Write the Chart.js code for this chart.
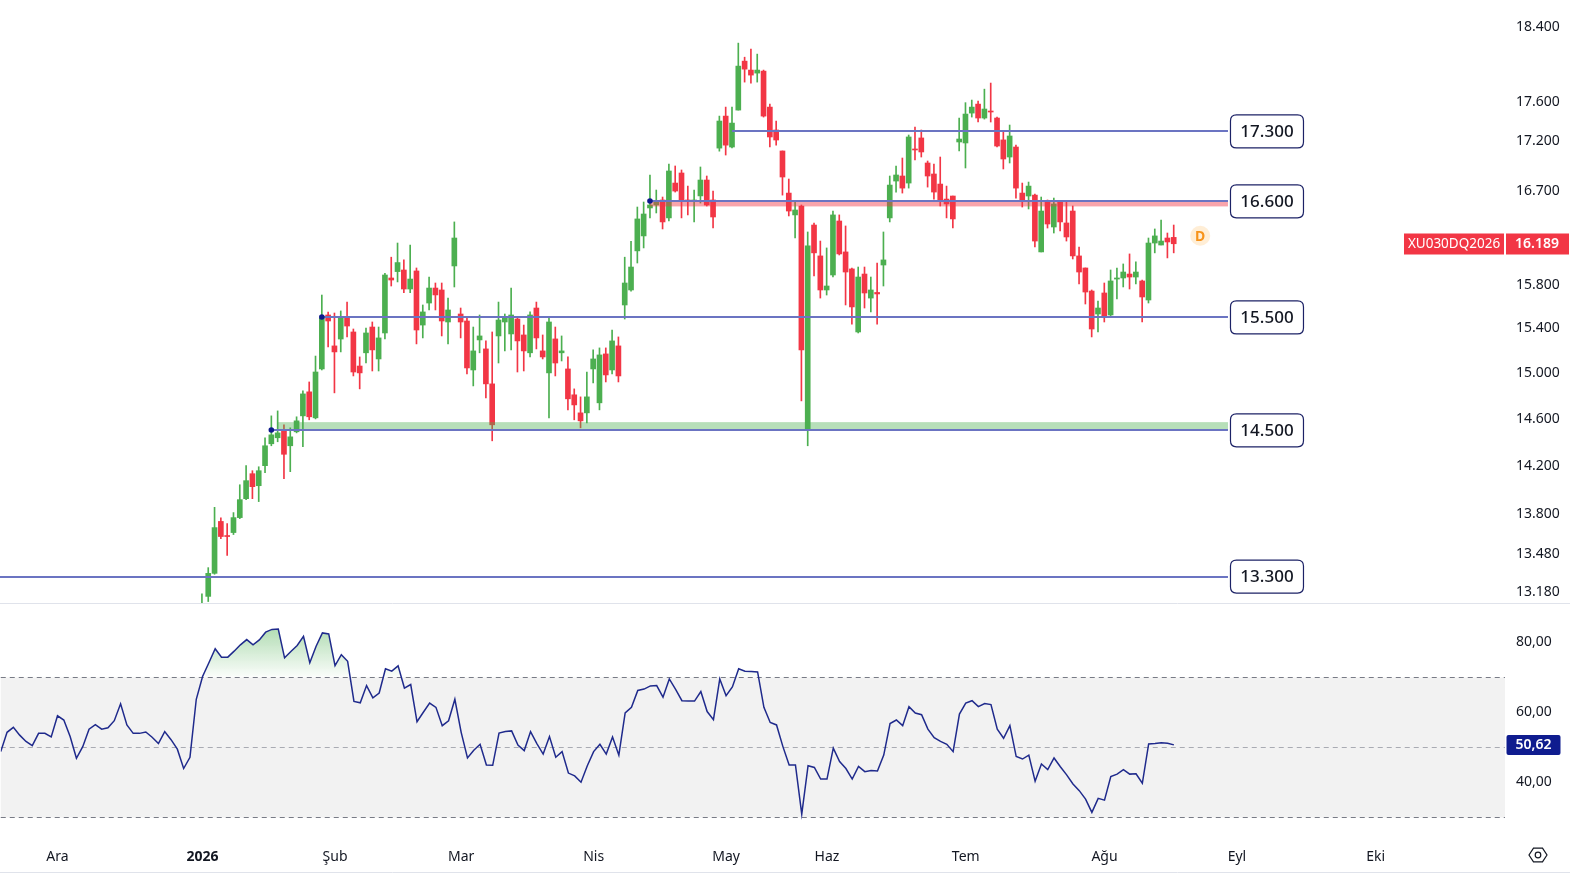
<!DOCTYPE html>
<html lang="tr">
<head>
<meta charset="utf-8">
<title>XU030DQ2026</title>
<script src="https://cdn.jsdelivr.net/npm/chart.js@4.4.1/dist/chart.umd.min.js"></script>
<style>
  html, body { margin: 0; padding: 0; background: #fff; overflow: hidden; }
  #wrap { position: relative; width: 1570px; height: 875px; }
  canvas { position: absolute; left: 0; }
  #price { top: 0; }
  #rsi { top: 604px; }
</style>
</head>
<body>
<div id="wrap">
  <canvas id="price" width="1570" height="604"></canvas>
  <canvas id="rsi" width="1570" height="271"></canvas>
</div>
<script>
const FONT = "'Noto Sans', 'DejaVu Sans', sans-serif";
const UP = "#4caf50";
const DOWN = "#f23645";
const TEXT = "#131722";

// daily candles, bar 0 = 2 Jan 2026 (trading-day index)
const opens = [
  12990,13145,13325,13740,13626,13650,13771,13926,14133,14033,
  14200,14385,14436,14496,14368,14487,14624,14833,14607,15035,
  15522,15241,15303,15504,15367,15061,15179,15412,15124,15358,
  15865,15925,15940,15762,15931,15430,15632,15771,15753,15458,
  15978,15531,15467,15026,15295,15214,14903,15331,15458,15349,
  15485,15340,15179,15586,15196,15000,15304,15179,15035,14807,
  14650,14650,15035,14737,15169,15026,15241,15614,15753,16121,
  16264,16535,16564,16613,16438,16780,16880,16613,16603,16653,
  16810,16613,17130,17457,17141,17519,18033,17938,17906,17927,
  17550,17314,17101,16681,16467,16554,14496,16369,16073,15753,
  15893,16408,16111,15950,15367,15902,15678,15730,15987,16438,
  16800,16850,16780,17121,17233,16980,16870,16770,16622,16652,
  17192,17182,17488,17581,17437,17509,17437,17213,17040,17141,
  16681,16652,16661,16111,16593,16350,16593,16389,16505,16073,
  15959,15743,15531,15725,15522,15855,15865,15902,15874,15837,
  15660,16196,16177,16244,16250
];
const highs = [
  13165,13370,13855,13770,13723,13812,14041,14200,14158,14191,
  14436,14624,14667,14547,14521,14616,14841,14920,15150,15706,
  15549,15540,15559,15641,15394,15142,15403,15458,15412,15909,
  16061,16196,16035,16177,15959,15614,15874,15818,15818,15678,
  16399,15586,15494,15412,15522,15286,15367,15641,15531,15771,
  15494,15430,15550,15641,15340,15494,15412,15331,15142,14859,
  14789,15008,15205,15223,15223,15385,15322,16061,16211,16544,
  16593,16860,16711,16642,16970,16950,16910,16750,16711,16940,
  16850,16701,17457,17550,17550,18226,18075,18162,18108,17938,
  17581,17406,17101,16820,16603,16564,16302,16389,16215,16149,
  16505,16467,16360,15959,15968,15968,15874,16006,16302,16850,
  16950,17030,17263,17344,17314,17000,16970,17040,16750,16652,
  17436,17596,17623,17612,17737,17801,17447,17304,17365,17161,
  16780,16790,16671,16642,16613,16632,16603,16603,16554,16158,
  15959,15753,15651,15818,15940,15959,15997,16092,16016,15846,
  16244,16331,16418,16292,16369
];
const lows = [
  12950,13105,13318,13600,13466,13634,13763,13918,13926,13902,
  14141,14368,14402,14091,14150,14478,14360,14590,14598,15026,
  15232,14824,15187,15322,14973,14859,15088,15017,15017,15304,
  15790,15828,15728,15728,15259,15313,15568,15568,15331,15259,
  15781,15313,14990,14885,15179,14780,14410,15088,15196,15205,
  15008,15017,15142,15214,15124,14607,14973,15106,14676,14590,
  14521,14564,14911,14676,14920,14990,14920,15485,15743,16006,
  16149,16438,16486,16331,16408,16691,16438,16467,16399,16583,
  16554,16340,17099,17060,17131,17519,17811,17801,17811,17447,
  17141,17160,16661,16457,16244,14754,14368,15884,15678,15706,
  15874,16082,15614,15439,15358,15586,15550,15439,15790,16399,
  16691,16681,16730,17010,17040,16740,16622,16554,16438,16340,
  17101,16930,17447,17396,17426,17396,17141,16920,16980,16632,
  16544,16525,16158,16111,16340,16292,16311,16215,16044,15809,
  15623,15322,15367,15458,15513,15669,15781,15762,15809,15458,
  15632,16102,16177,16054,16102
];
const closes = [
  13090,13325,13690,13618,13618,13771,13918,14075,14025,14158,
  14368,14461,14478,14296,14444,14581,14815,14616,15008,15494,
  15467,15187,15504,15421,15008,15000,15358,15205,15313,15893,
  15846,16010,15762,15855,15385,15550,15771,15707,15467,15568,
  16244,15458,15044,15196,15331,14903,14547,15476,15504,15522,
  15286,15196,15522,15313,15142,15458,15088,15196,14772,14719,
  14581,14789,15124,15160,14982,15286,14973,15818,15968,16428,
  16476,16564,16593,16399,16900,16701,16603,16603,16613,16810,
  16564,16447,17406,17160,17385,17980,17948,17885,17938,17457,
  17243,17212,16840,16505,16515,15205,16168,16102,15753,15790,
  16467,16092,15921,15596,15874,15725,15753,15716,16035,16760,
  16860,16730,17243,17111,17091,16850,16691,16613,16574,16428,
  17222,17478,17550,17437,17530,17499,17151,17020,17253,16730,
  16603,16750,16215,16505,16379,16574,16399,16254,16073,15921,
  15734,15394,15586,15513,15837,15865,15921,15874,15921,15688,
  16196,16264,16215,16206,16189
];

// RSI(14), first value sits on bar -32
const rsiStart = -32;
const rsiValues = [
  48.7,54.2,55.6,53.4,51.6,50.4,53.9,53.9,52.9,58.9,
  57.7,53.0,46.8,50.1,55.1,56.4,55.1,55.5,57.5,62.3,
  56.3,53.9,53.9,54.3,52.8,51.0,54.4,52.1,49.4,43.9,
  47.1,63.6,
  70.1,74.0,78.0,75.6,75.6,77.3,79.1,80.6,79.1,80.5,
  82.7,83.5,83.6,75.4,77.2,78.9,81.5,74.0,78.7,82.5,
  82.2,73.2,76.3,74.4,63.0,62.6,67.5,64.0,65.4,72.3,
  71.6,73.1,66.8,67.8,57.2,59.9,62.5,61.3,56.1,57.5,
  63.6,54.2,46.9,49.1,50.8,44.9,44.8,54.0,54.4,54.6,
  50.6,49.0,54.4,51.0,48.0,53.0,47.1,48.7,42.6,41.8,
  40.0,44.7,48.7,50.8,48.0,52.9,47.7,59.7,61.3,66.1,
  66.5,67.4,67.5,64.2,69.4,66.4,63.2,63.1,63.1,65.8,
  60.1,57.8,69.4,64.6,67.1,72.3,71.6,71.5,71.4,61.3,
  57.0,56.3,50.2,44.9,44.9,30.9,44.7,44.2,40.9,40.9,
  49.7,45.9,43.9,40.9,44.5,43.0,43.3,43.2,47.7,56.7,
  57.7,56.1,61.5,59.7,59.2,55.1,52.7,51.6,50.8,48.7,
  59.4,62.5,63.2,61.5,62.4,62.1,55.1,52.5,56.1,47.3,
  46.6,47.7,40.3,45.2,43.6,46.9,44.4,42.1,39.5,37.6,
  35.2,31.4,35.4,34.9,41.6,42.3,43.6,42.3,42.4,39.7,
  50.9,51.0,51.2,51.1,50.62
];

const priceTicks = [18400, 17600, 17200, 16700, 15800, 15400, 15000, 14600, 14200, 13800, 13480, 13180];
const rsiTicks = [40, 60, 80];
const monthLabels = ["Ara", "2026", "Şub", "Mar", "Nis", "May", "Haz", "Tem", "Ağu", "Eyl", "Eki"];
const monthBars = [-23, 0, 21, 41, 62, 83, 99, 121, 143, 164, 186];

// drawn horizontal levels
const levelValues = [17300, 16600, 15500, 14500, 13300];
const levelFrom = [84, 71, 19, 11, -32];
const levelDot = [false, true, true, true, false];
const levelTo = 162.6;
const zoneLow = [16550, 14500];
const zoneHigh = [16610, 14570];
const zoneFrom = [71, 12];
const zoneColors = ["rgba(242,54,69,0.45)", "rgba(76,175,80,0.4)"];

const symbol = "XU030DQ2026";
const lastPrice = closes[closes.length - 1];
const lastRsi = rsiValues[rsiValues.length - 1];
const dividendBar = 158.2;
const dividendPrice = 16266;

const X_MIN = -32;
const X_MAX = 206.5;

function fmtPrice(v) {
  const s = String(Math.round(v));
  return s.slice(0, -3) + "." + s.slice(-3);
}
function fmtRsi(v) {
  return v.toFixed(2).replace(".", ",");
}
function roundRect(ctx, x, y, w, h, r) {
  ctx.beginPath();
  ctx.moveTo(x + r, y);
  ctx.lineTo(x + w - r, y);
  ctx.quadraticCurveTo(x + w, y, x + w, y + r);
  ctx.lineTo(x + w, y + h - r);
  ctx.quadraticCurveTo(x + w, y + h, x + w - r, y + h);
  ctx.lineTo(x + r, y + h);
  ctx.quadraticCurveTo(x, y + h, x, y + h - r);
  ctx.lineTo(x, y + r);
  ctx.quadraticCurveTo(x, y, x + r, y);
  ctx.closePath();
}

const candleColors = closes.map((c, i) => (c >= opens[i] ? UP : DOWN));
const wickData = closes.map((c, i) => ({ x: i, y: [lows[i], highs[i]] }));
const bodyData = closes.map((c, i) => ({ x: i, y: [opens[i], c] }));
const rsiData = rsiValues.map((v, i) => ({ x: rsiStart + i, y: v }));

const priceOverlay = {
  id: "priceOverlay",
  afterDatasetsDraw(chart) {
    const { ctx, chartArea, scales: { x, y } } = chart;
    const xEnd = x.getPixelForValue(levelTo);
    ctx.save();
    zoneLow.forEach((lo, k) => {
      const top = y.getPixelForValue(zoneHigh[k]);
      const bot = y.getPixelForValue(lo);
      const x0 = x.getPixelForValue(zoneFrom[k]);
      ctx.fillStyle = zoneColors[k];
      ctx.fillRect(x0, top, xEnd - x0, bot - top);
    });
    ctx.strokeStyle = "#6b74c2";
    ctx.lineWidth = 2;
    levelValues.forEach((v, k) => {
      const py = Math.round(y.getPixelForValue(v));
      const x0 = Math.max(chartArea.left, x.getPixelForValue(levelFrom[k]));
      ctx.beginPath();
      ctx.moveTo(x0, py);
      ctx.lineTo(xEnd, py);
      ctx.stroke();
      if (levelDot[k]) {
        ctx.fillStyle = "#0d1a8c";
        ctx.beginPath();
        ctx.arc(x0, py, 2.8, 0, Math.PI * 2);
        ctx.fill();
      }
    });
    ctx.restore();
  },
  afterDraw(chart) {
    const { ctx, chartArea, scales: { x, y } } = chart;
    ctx.save();
    // level tags
    const bx = x.getPixelForValue(levelTo) + 2;
    levelValues.forEach((v) => {
      const py = y.getPixelForValue(v);
      roundRect(ctx, bx + 0.5, py - 16.5, 73, 33, 6);
      ctx.fillStyle = "#fff";
      ctx.fill();
      ctx.strokeStyle = "#1c2266";
      ctx.lineWidth = 1.2;
      ctx.stroke();
      ctx.fillStyle = TEXT;
      ctx.font = "500 17px " + FONT;
      ctx.textAlign = "center";
      ctx.textBaseline = "middle";
      ctx.fillText(fmtPrice(v), bx + 37, py + 1);
    });
    // dividend marker
    const dx = x.getPixelForValue(dividendBar);
    const dy = y.getPixelForValue(dividendPrice);
    ctx.fillStyle = "rgba(255,152,0,0.16)";
    ctx.beginPath();
    ctx.arc(dx, dy, 10, 0, Math.PI * 2);
    ctx.fill();
    ctx.fillStyle = "#f7931a";
    ctx.font = "bold 14px " + FONT;
    ctx.textAlign = "center";
    ctx.fillText("D", dx, dy + 1);
    // last price tag
    const ly = Math.round(y.getPixelForValue(lastPrice));
    ctx.fillStyle = DOWN;
    ctx.fillRect(chartArea.right - 101, ly - 10.5, 100, 21);
    ctx.fillRect(chartArea.right + 1, ly - 10.5, 63, 21);
    ctx.fillStyle = "#fff";
    ctx.font = "13.5px " + FONT;
    ctx.fillText(symbol, chartArea.right - 51, ly + 0.5);
    ctx.font = "600 14px " + FONT;
    ctx.fillText(fmtPrice(lastPrice), chartArea.right + 32, ly + 0.5);
    // pane separator
    ctx.strokeStyle = "#e0e3eb";
    ctx.lineWidth = 1;
    ctx.beginPath();
    ctx.moveTo(0, chart.height - 0.5);
    ctx.lineTo(chart.width, chart.height - 0.5);
    ctx.stroke();
    ctx.restore();
  }
};

const priceChart = new Chart(document.getElementById("price"), {
  type: "bar",
  data: {
    datasets: [
      { label: "wick", data: wickData, backgroundColor: candleColors, barThickness: 1, grouped: false, order: 2 },
      { label: "body", data: bodyData, backgroundColor: candleColors, barThickness: 5, minBarLength: 1, grouped: false, order: 1 }
    ]
  },
  options: {
    responsive: false,
    animation: false,
    layout: { padding: 0 },
    plugins: { legend: { display: false }, tooltip: { enabled: false } },
    scales: {
      x: { type: "linear", min: X_MIN, max: X_MAX, offset: false, display: false },
      y: {
        type: "logarithmic",
        position: "right",
        min: 13086,
        max: 18696,
        grid: { display: false, drawTicks: false },
        border: { display: false },
        afterBuildTicks: (s) => { s.ticks = priceTicks.map((v) => ({ value: v })); },
        afterFit: (s) => { s.width = 65; s.paddingTop = 0; s.paddingBottom = 0; },
        ticks: {
          autoSkip: false,
          padding: 11,
          color: TEXT,
          font: { family: FONT, size: 14 },
          callback: (v) => fmtPrice(v)
        }
      }
    }
  },
  plugins: [priceOverlay]
});

const rsiOverlay = {
  id: "rsiOverlay",
  beforeDatasetsDraw(chart) {
    const { ctx, chartArea, scales: { y } } = chart;
    const y70 = Math.round(y.getPixelForValue(70)) + 0.5;
    const y50 = Math.round(y.getPixelForValue(50)) + 0.5;
    const y30 = Math.round(y.getPixelForValue(30)) + 0.5;
    ctx.save();
    ctx.fillStyle = "#f2f2f2";
    ctx.fillRect(chartArea.left, y70, chartArea.right - chartArea.left, y30 - y70);
    ctx.lineWidth = 1;
    ctx.setLineDash([5, 4]);
    [[y70, "#787b86"], [y50, "#a9abb3"], [y30, "#787b86"]].forEach(([py, col]) => {
      ctx.strokeStyle = col;
      ctx.beginPath();
      ctx.moveTo(chartArea.left, py);
      ctx.lineTo(chartArea.right, py);
      ctx.stroke();
    });
    ctx.restore();
  },
  afterDraw(chart) {
    const { ctx, chartArea, scales: { y } } = chart;
    ctx.save();
    const ly = Math.round(y.getPixelForValue(lastRsi));
    ctx.fillStyle = "#0f1c8f";
    roundRect(ctx, chartArea.right + 1.5, ly - 10, 54, 20, 2);
    ctx.fill();
    ctx.fillStyle = "#fff";
    ctx.font = "600 14px " + FONT;
    ctx.textAlign = "center";
    ctx.textBaseline = "middle";
    ctx.fillText(fmtRsi(lastRsi), chartArea.right + 28.5, ly + 0.5);
    // settings icon
    const gx = 1538, gy = chart.height - 20;
    ctx.strokeStyle = TEXT;
    ctx.lineWidth = 1.2;
    ctx.beginPath();
    for (let k = 0; k < 6; k++) {
      const a = Math.PI / 3 * k;
      const px = gx + 9 * Math.cos(a), py = gy + 8 * Math.sin(a);
      if (k === 0) ctx.moveTo(px, py); else ctx.lineTo(px, py);
    }
    ctx.closePath();
    ctx.stroke();
    ctx.beginPath();
    ctx.arc(gx, gy, 2.8, 0, Math.PI * 2);
    ctx.stroke();
    // bottom border
    ctx.strokeStyle = "#e0e3eb";
    ctx.lineWidth = 1;
    ctx.beginPath();
    ctx.moveTo(0, chart.height - 2.5);
    ctx.lineTo(chart.width, chart.height - 2.5);
    ctx.stroke();
    ctx.restore();
  }
};

const rsiChart = new Chart(document.getElementById("rsi"), {
  type: "line",
  data: {
    datasets: [{
      label: "RSI",
      data: rsiData,
      borderColor: "#1f2a8c",
      borderWidth: 1.5,
      pointRadius: 0,
      tension: 0,
      fill: { target: { value: 70 }, above: "rgba(76,175,80,0.25)", below: "rgba(0,0,0,0)" }
    }]
  },
  options: {
    responsive: false,
    animation: false,
    layout: { padding: 0 },
    plugins: { legend: { display: false }, tooltip: { enabled: false } },
    scales: {
      x: {
        type: "linear",
        min: X_MIN,
        max: X_MAX,
        offset: false,
        grid: { display: false, drawTicks: false },
        border: { display: false },
        afterBuildTicks: (s) => { s.ticks = monthBars.map((v) => ({ value: v })); },
        afterFit: (s) => { s.height = 44; s.paddingLeft = 0; s.paddingRight = 0; },
        ticks: {
          autoSkip: false,
          maxRotation: 0,
          padding: 18,
          color: TEXT,
          font: (c) => ({ family: FONT, size: 14, weight: c.tick && c.tick.value === 0 ? "bold" : "normal" }),
          callback: (v, i) => monthLabels[i]
        }
      },
      y: {
        position: "right",
        min: 26.11,
        max: 90.51,
        grid: { display: false, drawTicks: false },
        border: { display: false },
        afterBuildTicks: (s) => { s.ticks = rsiTicks.map((v) => ({ value: v })); },
        afterFit: (s) => { s.width = 65; s.paddingTop = 0; s.paddingBottom = 0; },
        ticks: {
          autoSkip: false,
          padding: 11,
          color: TEXT,
          font: { family: FONT, size: 14 },
          callback: (v) => fmtRsi(v)
        }
      }
    }
  },
  plugins: [rsiOverlay]
});

// overbought fill fades toward the 70 line
const ry = rsiChart.scales.y;
const grad = rsiChart.ctx.createLinearGradient(0, ry.getPixelForValue(86), 0, ry.getPixelForValue(70));
grad.addColorStop(0, "rgba(76,175,80,0.5)");
grad.addColorStop(1, "rgba(76,175,80,0.03)");
rsiChart.data.datasets[0].fill.above = grad;
rsiChart.update("none");
</script>
</body>
</html>
